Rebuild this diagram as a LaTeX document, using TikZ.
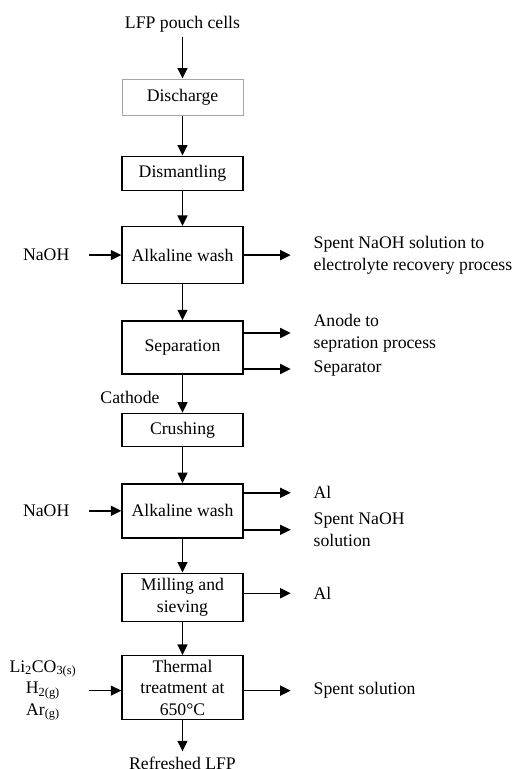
\documentclass[tikz,border=0pt]{standalone}
\usepackage{fontspec}
\setmainfont{Liberation Serif}
\usetikzlibrary{arrows.meta, positioning}

\begin{document}
\begin{tikzpicture}[x=1pt, y=1pt, node distance=36pt, line width=1.4pt,
	every node/.style={align=center, font=\fontsize{17.7}{21.5}\selectfont},
	box/.style={draw, minimum width=121pt, minimum height=#1, inner sep=2pt},
	feed/.style={inner sep=3pt, outer xsep=17pt},
	prod/.style={align=left, inner sep=3pt, outer xsep=20pt},
	>={Triangle[length=10.5pt, width=10pt]}]
	\useasboundingbox (0,0) rectangle (513,-769);

	\node[box=36pt, draw=gray!70, line width=1pt] (dis) at (182.5,-97) {Discharge};
	\node (lfp) [above=42pt of dis] {LFP pouch cells};
	\node[box=34pt] (dism) [below=40pt of dis] {Dismantling};
	\node[box=57pt] (aw1) [below=35pt of dism] {Alkaline wash};
	\node[box=53pt] (sep) [below=of aw1] {Separation};
	\node[box=33pt] (crush) [below=38pt of sep] {Crushing};
	\node[box=54pt] (aw2) [below=of crush] {Alkaline wash};
	\node[box=48pt] (mill) [below=34pt of aw2] {Milling and\\sieving};
	\node[box=64pt] (therm) [below=33pt of mill] {Thermal\\treatment at\\650°C};
	\node[inner sep=1pt, outer ysep=5pt] (ref) [below=31pt of therm] {Refreshed LFP};

	% inputs on the left
	\node[feed] (naoh1) [left=32pt of aw1] {NaOH};
	\node[feed] (naoh2) [left=32pt of aw2] {NaOH};
	\node[feed, outer xsep=10pt, yshift=-3pt] (gas) [left=32pt of therm]
		{Li\textsubscript{2}CO\textsubscript{3(s)}\\H\textsubscript{2(g)}\\Ar\textsubscript{(g)}};

	% products on the right
	\node[prod] (spent1) [right=47pt of aw1] {Spent NaOH solution to\\electrolyte recovery process};
	\node[prod, yshift=14.5pt] (anode) [right=47pt of sep] {Anode to\\sepration process};
	\node[prod, yshift=-21.5pt] (sepr) [right=47pt of sep] {Separator};
	\node[prod, yshift=18pt] (al1) [right=47pt of aw2] {Al};
	\node[prod, yshift=-19pt] (spent2) [right=47pt of aw2] {Spent NaOH\\solution};
	\node[prod, yshift=4pt] (al2) [right=47pt of mill] {Al};
	\node[prod, yshift=-3pt] (spent3) [right=47pt of therm] {Spent solution};

	\draw[->] (lfp) -- (dis);
	\draw[->] (dis) -- (dism);
	\draw[->] (dism) -- (aw1);
	\draw[->] (aw1) -- (sep);
	\draw[->] (sep) -- node[left=19pt, pos=0.6] {Cathode} (crush);
	\draw[->] (crush) -- (aw2);
	\draw[->] (aw2) -- (mill);
	\draw[->] (mill) -- (therm);
	\draw[->] (therm) -- (ref);

	\draw[->] (naoh1) -- (aw1.west |- naoh1);
	\draw[->] (naoh2) -- (aw2.west |- naoh2);
	\draw[->] (gas) -- (therm.west |- gas);

	\draw[->] (aw1.east |- spent1) -- (spent1);
	\draw[->] (sep.east |- anode) -- (anode);
	\draw[->] (sep.east |- sepr) -- (sepr);
	\draw[->] (aw2.east |- al1) -- (al1);
	\draw[->] (aw2.east |- spent2) -- (spent2);
	\draw[->] (mill.east |- al2) -- (al2);
	\draw[->] (therm.east |- spent3) -- (spent3);
\end{tikzpicture}
\end{document}
